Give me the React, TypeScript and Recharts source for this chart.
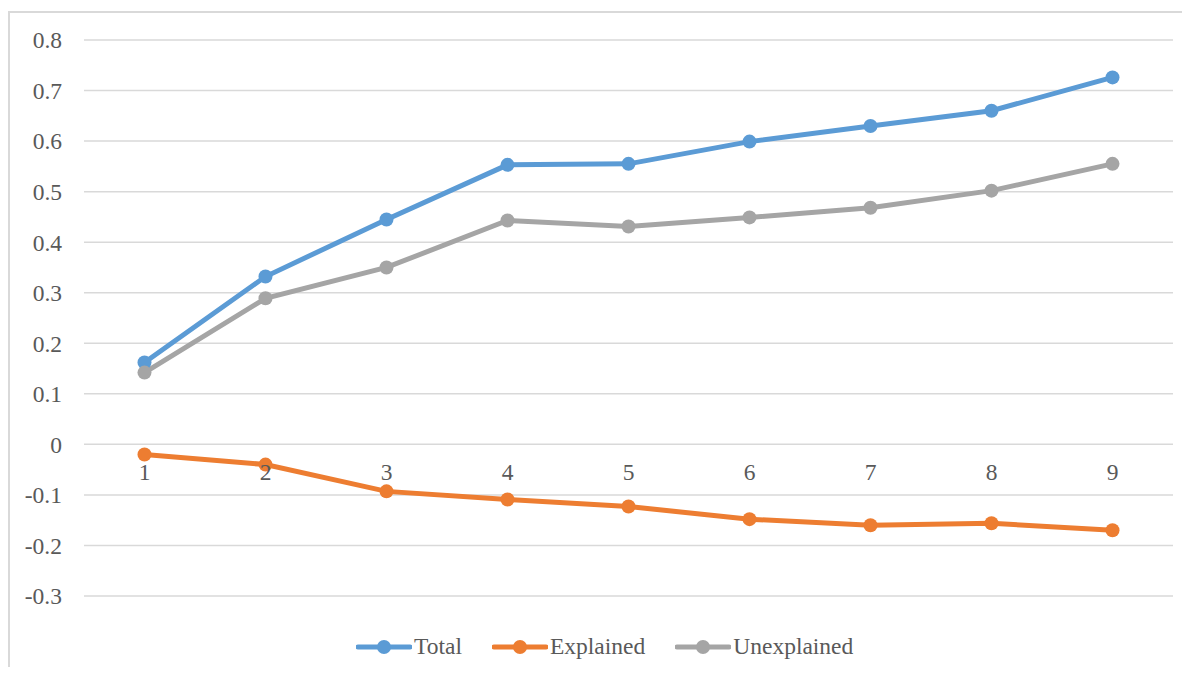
import React from 'react';
import { LineChart, Line, XAxis, YAxis, CartesianGrid, Legend } from 'recharts';

const groups = ['1', '2', '3', '4', '5', '6', '7', '8', '9'];
const total = [0.162, 0.332, 0.445, 0.553, 0.555, 0.599, 0.630, 0.660, 0.726];
const explained = [-0.020, -0.040, -0.093, -0.109, -0.123, -0.148, -0.160, -0.156, -0.170];
const unexplained = [0.142, 0.289, 0.350, 0.443, 0.431, 0.449, 0.468, 0.502, 0.555];
const yTicks = [-0.3, -0.2, -0.1, 0, 0.1, 0.2, 0.3, 0.4, 0.5, 0.6, 0.7, 0.8];

const series = [
  { key: 'total', name: 'Total', color: '#5B9BD5' },
  { key: 'explained', name: 'Explained', color: '#ED7D31' },
  { key: 'unexplained', name: 'Unexplained', color: '#A5A5A5' },
];

const data = groups.map((g, i) => ({
  group: g,
  total: total[i],
  explained: explained[i],
  unexplained: unexplained[i],
}));

const W = 1190;
const H = 675;
const PLOT_TOP = 40;
const PLOT_BOTTOM = 596;
const X_AXIS_H = 30;
const Y_MIN = -0.3;
const Y_MAX = 0.8;
// category labels sit just under the zero line, like Excel does
const ZERO_Y = PLOT_TOP + ((Y_MAX - 0) / (Y_MAX - Y_MIN)) * (PLOT_BOTTOM - PLOT_TOP);

const FONT = '"Liberation Serif", "Times New Roman", serif';
const TEXT = '#595959';
const FS = 23.5;

const CategoryTick = (props: any) => {
  const { x, payload } = props;
  return (
    <text x={x} y={ZERO_Y + 36} textAnchor="middle" fontFamily={FONT} fontSize={FS} fill={TEXT}>
      {payload.value}
    </text>
  );
};

const LegendContent = () => (
  <div style={{ display: 'flex', alignItems: 'center', fontFamily: FONT, fontSize: FS, color: TEXT }}>
    {series.map((s) => (
      <div key={s.key} style={{ display: 'flex', alignItems: 'center', marginRight: 30 }}>
        <svg width={56} height={16} style={{ marginRight: 2 }}>
          <line x1={2} y1={8} x2={54} y2={8} stroke={s.color} strokeWidth={5} strokeLinecap="round" />
          <circle cx={28} cy={8} r={7} fill={s.color} />
        </svg>
        <span>{s.name}</span>
      </div>
    ))}
  </div>
);

export default function App() {
  return (
    <div style={{ position: 'relative', width: W, height: H, margin: -8, overflow: 'hidden', background: '#fff' }}>
      <div
        style={{
          position: 'absolute',
          left: 8,
          top: 11,
          width: W + 20,
          height: H + 20,
          borderLeft: '2px solid #d9d9d9',
          borderTop: '2px solid #d9d9d9',
        }}
      />
      <div style={{ position: 'absolute', left: 0, top: 0 }}>
        <LineChart
          width={W}
          height={H}
          data={data}
          margin={{ top: PLOT_TOP, right: 17, bottom: H - PLOT_BOTTOM - X_AXIS_H, left: 24 }}
        >
          <CartesianGrid vertical={false} stroke="#d9d9d9" strokeWidth={1.5} />
          <XAxis
            dataKey="group"
            height={X_AXIS_H}
            padding={{ left: 60.5, right: 60.5 }}
            axisLine={false}
            tickLine={false}
            tick={<CategoryTick />}
            interval={0}
          />
          <YAxis
            width={60}
            domain={[Y_MIN, Y_MAX]}
            ticks={yTicks}
            interval={0}
            axisLine={false}
            tickLine={false}
            tickSize={0}
            tickMargin={22}
            tickFormatter={(v: number) => String(Math.round(v * 10) / 10)}
            tick={{ fontFamily: FONT, fontSize: FS, fill: TEXT }}
          />
          <Legend
            verticalAlign="middle"
            layout="horizontal"
            wrapperStyle={{ top: 633, left: 356, width: 'auto' }}
            content={<LegendContent />}
          />
          {series.map((s) => (
            <Line
              key={s.key}
              type="linear"
              dataKey={s.key}
              name={s.name}
              stroke={s.color}
              strokeWidth={5}
              dot={{ r: 7, fill: s.color, stroke: s.color, strokeWidth: 0 }}
              activeDot={false}
              isAnimationActive={false}
            />
          ))}
        </LineChart>
      </div>
    </div>
  );
}
